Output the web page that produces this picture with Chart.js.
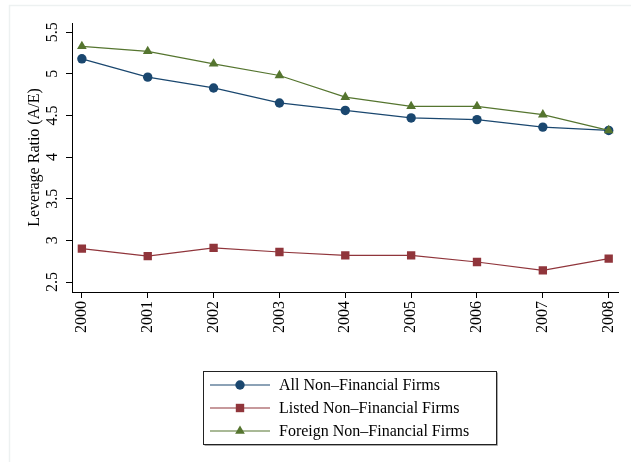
<!DOCTYPE html>
<html lang="en">
<head>
<meta charset="UTF-8">
<title>Leverage Ratio</title>
<script src="https://cdn.jsdelivr.net/npm/chart.js"></script>
<style>
  body { margin: 0; background: #fff; }
  canvas { display: block; }
</style>
</head>
<body>
<canvas id="leverageChart" width="631" height="462"></canvas>
<script>
// values
const years = [2000, 2001, 2002, 2003, 2004, 2005, 2006, 2007, 2008];
const allFirms = [5.18, 4.96, 4.83, 4.65, 4.56, 4.47, 4.45, 4.36, 4.32];
const listedFirms = [2.90, 2.81, 2.91, 2.86, 2.82, 2.82, 2.74, 2.64, 2.78];
const foreignFirms = [5.33, 5.27, 5.12, 4.98, 4.72, 4.61, 4.61, 4.51, 4.32];
const yTicks = [2.5, 3, 3.5, 4, 4.5, 5, 5.5];
const seriesNames = ['All Non\u2013Financial Firms', 'Listed Non\u2013Financial Firms', 'Foreign Non\u2013Financial Firms'];
const yTitle = 'Leverage Ratio (A/E)';

const serif = '"Liberation Serif", "DejaVu Serif", serif';
const blue = '#1a476f', red = '#90353b', green = '#55752f';

function pts(vals) {
    return vals.map((v, i) => ({ x: years[i], y: v }));
}

function marker(ctx, style, x, y, color) {
    ctx.fillStyle = color;
    ctx.beginPath();
    if (style === 'circle') {
        ctx.arc(x, y, 4.7, 0, Math.PI * 2);
    } else if (style === 'rect') {
        ctx.rect(x - 4.2, y - 4.2, 8.4, 8.4);
    } else {
        ctx.moveTo(x, y - 5.6);
        ctx.lineTo(x + 4.85, y + 2.8);
        ctx.lineTo(x - 4.85, y + 2.8);
        ctx.closePath();
    }
    ctx.fill();
}

// frame, rotated y labels, axis title and legend box
const extras = {
    id: 'extras',
    beforeDraw(chart) {
        const ctx = chart.ctx;
        ctx.save();
        ctx.fillStyle = '#fff';
        ctx.fillRect(0, 0, chart.width, chart.height);
        ctx.strokeStyle = '#edf1f1';
        ctx.lineWidth = 1.5;
        ctx.beginPath();
        ctx.moveTo(9.5, chart.height);
        ctx.lineTo(9.5, 5.5);
        ctx.lineTo(chart.width, 5.5);
        ctx.stroke();
        ctx.restore();
    },
    afterDraw(chart) {
        const ctx = chart.ctx;
        const yScale = chart.scales.y;
        ctx.save();
        ctx.font = '16px ' + serif;
        ctx.fillStyle = '#000';
        ctx.textAlign = 'center';
        ctx.textBaseline = 'middle';
        yTicks.forEach(v => {
            ctx.save();
            ctx.translate(53, yScale.getPixelForValue(v));
            ctx.rotate(-Math.PI / 2);
            ctx.fillText(String(v), 0, 0);
            ctx.restore();
        });
        ctx.save();
        ctx.translate(35, (chart.chartArea.top + chart.chartArea.bottom) / 2);
        ctx.rotate(-Math.PI / 2);
        ctx.fillText(yTitle, 0, 0);
        ctx.restore();

        // legend
        const bx = 203.5, by = 371.5, bw = 293, bh = 73;
        ctx.strokeStyle = '#aaa';
        ctx.lineWidth = 1;
        ctx.beginPath();
        ctx.moveTo(bx + bw + 1, by + 1);
        ctx.lineTo(bx + bw + 1, by + bh + 1);
        ctx.lineTo(bx + 1, by + bh + 1);
        ctx.stroke();
        ctx.strokeStyle = '#222';
        ctx.strokeRect(bx, by, bw, bh);
        const styles = ['circle', 'rect', 'triangle'];
        const cols = [blue, red, green];
        ctx.textAlign = 'left';
        seriesNames.forEach((name, i) => {
            const ry = 385 + i * 23;
            ctx.strokeStyle = cols[i];
            ctx.lineWidth = 1.2;
            ctx.beginPath();
            ctx.moveTo(210, ry);
            ctx.lineTo(270, ry);
            ctx.stroke();
            marker(ctx, styles[i], 240, ry, cols[i]);
            ctx.fillStyle = '#000';
            ctx.fillText(name, 279, ry + 1);
        });
        ctx.restore();
    }
};

const ctx = document.getElementById('leverageChart').getContext('2d');
const chart = new Chart(ctx, {
    type: 'line',
    data: {
        datasets: [{
            label: seriesNames[0],
            data: pts(allFirms),
            borderColor: blue,
            backgroundColor: blue,
            pointStyle: 'circle',
            pointRadius: 4.7,
            order: 1
        }, {
            label: seriesNames[1],
            data: pts(listedFirms),
            borderColor: red,
            backgroundColor: red,
            pointStyle: 'rect',
            pointRadius: 5.9,
            order: 2
        }, {
            label: seriesNames[2],
            data: pts(foreignFirms),
            borderColor: green,
            backgroundColor: green,
            pointStyle: 'triangle',
            pointRadius: 5.6,
            order: 0
        }]
    },
    options: {
        responsive: false,
        animation: false,
        datasets: {
            line: {
                borderWidth: 1.2,
                pointBorderWidth: 0,
                pointHoverRadius: 5,
                tension: 0
            }
        },
        layout: { padding: { left: 0, top: 23, right: 4, bottom: 0 } },
        plugins: {
            legend: { display: false },
            tooltip: { enabled: false }
        },
        scales: {
            x: {
                type: 'linear',
                min: 1999.85,
                max: 2008.15,
                afterBuildTicks: s => { s.ticks = years.map(v => ({ value: v })); },
                afterFit: s => { s.height = 170; },
                grid: { display: true, drawOnChartArea: false, drawTicks: true, tickLength: 6, color: '#000' },
                border: { display: true, color: '#000', width: 1 },
                ticks: {
                    minRotation: 90,
                    maxRotation: 90,
                    padding: 3,
                    color: '#000',
                    font: { family: serif, size: 16 },
                    callback: v => String(v)
                }
            },
            y: {
                min: 2.38,
                max: 5.61,
                afterBuildTicks: s => { s.ticks = yTicks.map(v => ({ value: v })); },
                afterFit: s => { s.width = 72; },
                grid: { display: true, drawOnChartArea: false, drawTicks: true, tickLength: 6, color: '#000' },
                border: { display: true, color: '#000', width: 1 },
                ticks: { display: false }
            }
        }
    },
    plugins: [extras]
});
</script>
</body>
</html>
